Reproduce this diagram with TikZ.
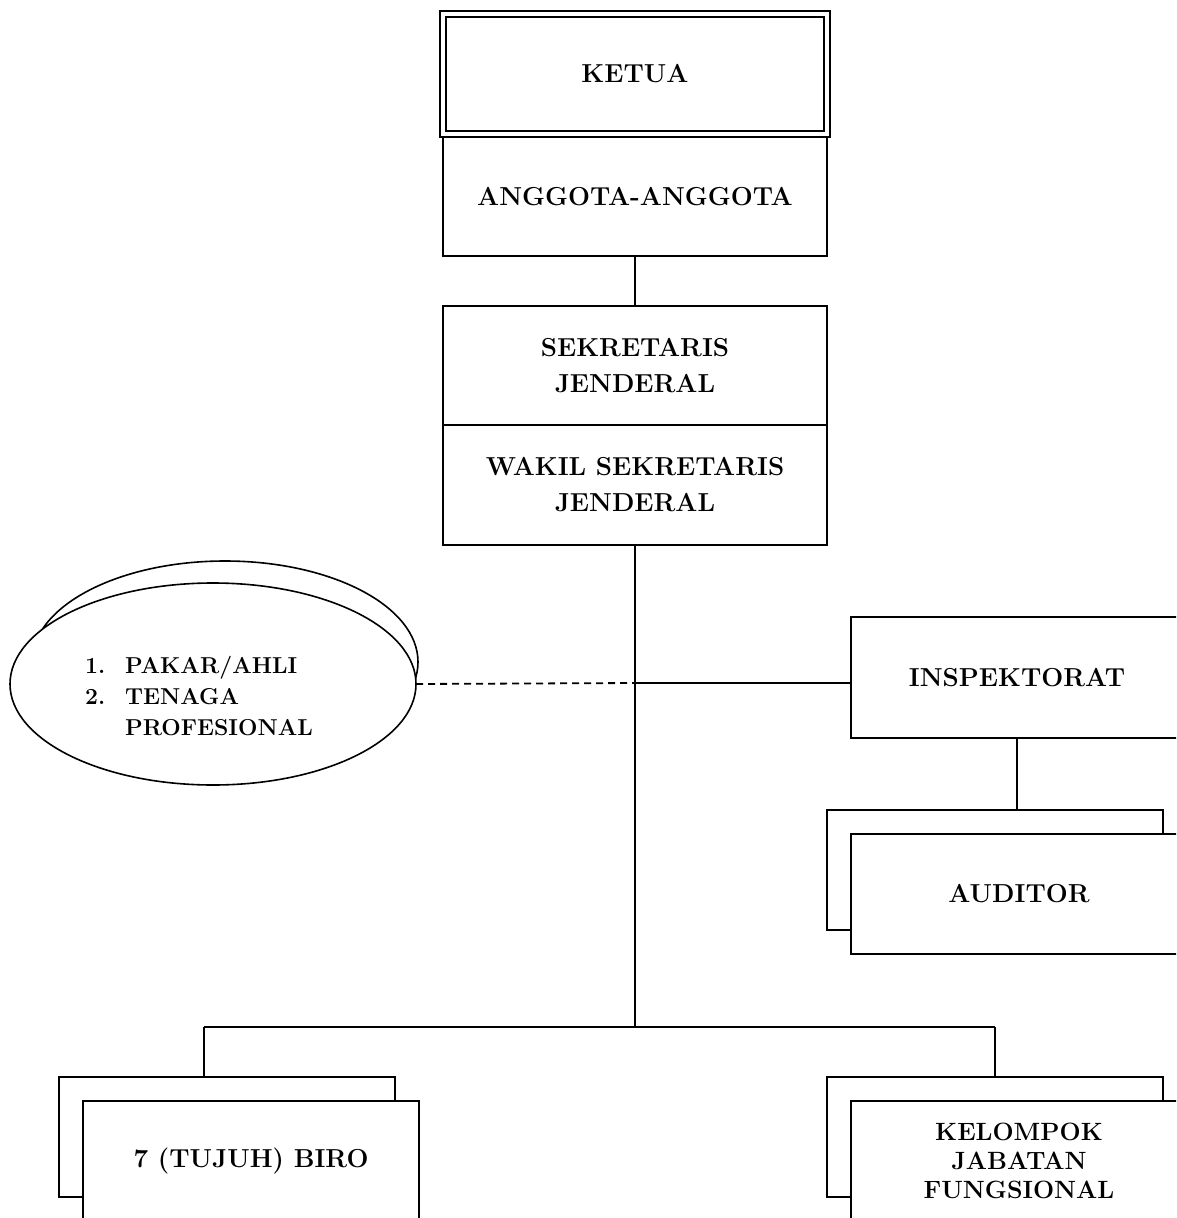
\documentclass[tikz,border=0pt]{standalone}
\usepackage{fontspec}
\usepackage{tikz}
\usetikzlibrary{positioning,shapes.geometric}
\tikzset{org box/.style={draw,fill=white,line width=1.8pt,minimum width=384pt,minimum height=120pt,inner sep=0pt,outer sep=0pt,align=center,font=\fontsize{26}{36}\selectfont\bfseries}}
\tikzset{ketua box/.style={org box,double,double distance=4pt,line width=1.6pt}}
\tikzset{back box/.style={draw,fill=white,line width=1.8pt,minimum width=336pt,minimum height=120pt,inner sep=0pt,outer sep=0pt}}
\tikzset{front box/.style={back box,align=center,font=\fontsize{26}{36}\selectfont\bfseries}}
\tikzset{staf ellipse/.style={ellipse,draw,fill=white,line width=1.6pt,inner sep=0pt,outer sep=0pt}}
\tikzset{conn/.style={line width=1.8pt}}

\begin{document}
\begin{tikzpicture}[x=1pt,y=-1pt]
            \useasboundingbox (0,0) rectangle (1176,1218);
            \clip (0,0) rectangle (1176,1218);

            \node[ketua box] (ketua) at (635,74) {KETUA};
            \node[org box,minimum height=119pt] (anggota) [below = 3pt of ketua] {ANGGOTA-ANGGOTA};
            \node[org box,minimum height=119pt] (sekjen) [below = 50pt of anggota] {SEKRETARIS\\JENDERAL};
            \node[org box] (wakil) [below = 0pt of sekjen] {WAKIL SEKRETARIS\\JENDERAL};

            \node[org box,minimum width=332pt,minimum height=121pt] (insp) at (1017,677.5) {INSPEKTORAT};
            \node[back box] (audback) at (995,870) {};
            \node[front box] (aud) at ([shift={(24,24)}]audback.center) {AUDITOR};

            \node[staf ellipse,minimum width=386pt,minimum height=202pt] (ahliback) at (225,662) {};
            \node[staf ellipse,minimum width=406pt,minimum height=202pt] (ahli) at (213,684) {};
            \node[align=left,font=\fontsize{23}{31}\selectfont\bfseries] (ahlitext) at (199,696)
                {\makebox[40pt][l]{1.}PAKAR/AHLI\\\makebox[40pt][l]{2.}TENAGA\\\hspace*{40pt}PROFESIONAL};

            \node[back box] (birobak) at (227,1137) {};
            \node[front box] (biro) at ([shift={(24,24)}]birobak.center) {7 (TUJUH) BIRO};
            \node[back box] (jfback) at (995,1137) {};
            \node[front box,font=\fontsize{25}{29}\selectfont\bfseries] (jf) at ([shift={(24,24)}]jfback.center) {KELOMPOK\\JABATAN\\FUNGSIONAL};

            \coordinate (mid) at (635,683);
            \coordinate (trunk) at (635,1027);
            \coordinate (bl) at (204,1027);
            \coordinate (br) at (995,1027);

            \path[draw, conn]
            (anggota) edge (sekjen)
            (wakil) edge (trunk)
            (bl) edge (br)
            (bl) edge (bl |- birobak.north)
            (br) edge (jfback)
            (insp.south) edge (insp.south |- audback.north);
            \draw[conn, dash pattern=on 7pt off 5pt] (ahli.east) -- (mid);
            \draw[conn] (mid) -- (mid -| insp.west);
        \end{tikzpicture}
\end{document}
